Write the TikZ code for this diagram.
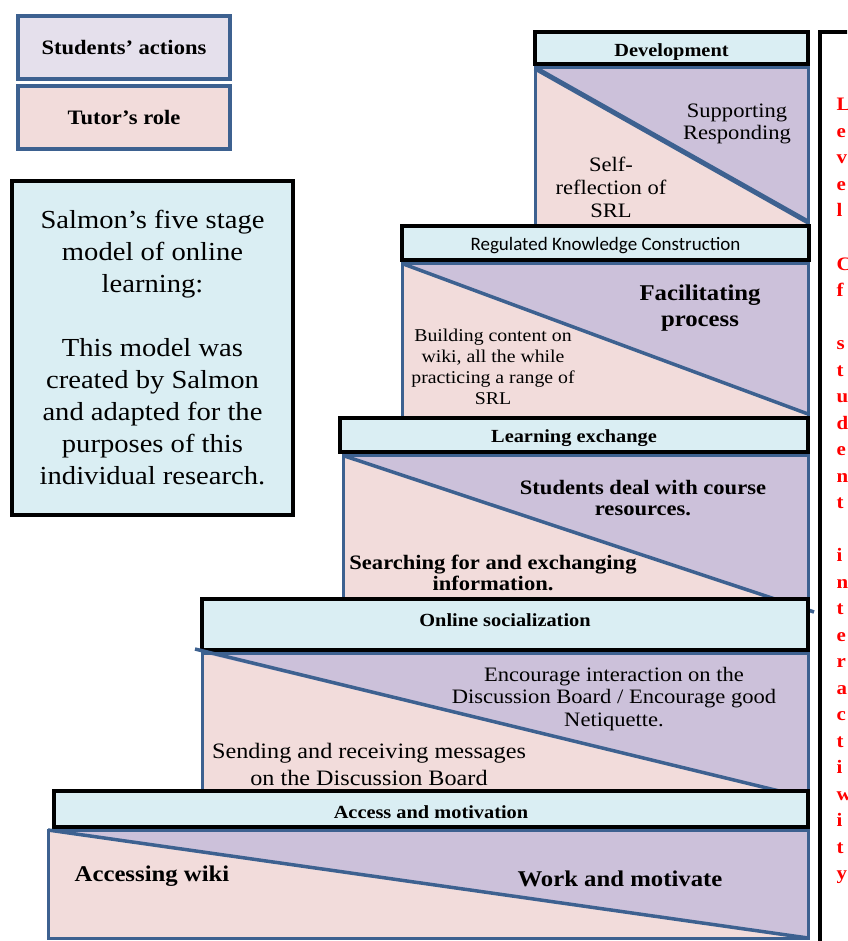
\documentclass[tikz,border=0pt]{standalone}
\usepackage{fontspec}
\setmainfont{Liberation Serif}[FakeStretch=1.1]
\newfontfamily\calibrifont{Carlito}
\usetikzlibrary{calc,positioning}

\definecolor{legendblue}{HTML}{3D6190}
\definecolor{headblue}{HTML}{DAEEF3}
\definecolor{tutorpink}{HTML}{F2DCDB}
\definecolor{studlilac}{HTML}{CCC1DA}
\definecolor{legendlilac}{HTML}{E5E0EC}

\tikzset{
  legendbox/.style={
    rectangle,
    draw=legendblue, line width=4pt,
    minimum width=212,
    minimum height=63,
    font=\bfseries\fontsize{20.5}{22}\selectfont},
  infobox/.style={
    rectangle,
    draw=black, line width=4pt,
    fill=headblue,
    align=center,
    font=\fontsize{26}{32}\selectfont},
  header/.style={
    rectangle,
    draw=black, line width=4pt,
    fill=headblue,
    inner sep=0pt,
    text depth=0pt,
    font=\bfseries\fontsize{18.5}{20}\selectfont},
  stagebody/.style={rectangle, fill=tutorpink, inner sep=0pt, outer sep=0pt},
  bodyline/.style={draw=legendblue, line width=3pt},
  diag/.style={draw=legendblue, line width=3.5pt},
  frame/.style={rectangle, draw=black, line width=4pt},
  bodytxt/.style={align=center, inner sep=0pt},
  redletter/.style={anchor=base west, inner sep=0pt, text=red,
    font=\bfseries\fontsize{19}{20}\selectfont},
}

\begin{document}
\begin{tikzpicture}[x=1pt, y=-1pt]
\clip (0,0) rectangle (847,941);

% legend and model note
\node[legendbox, fill=legendlilac] (students) at (124,47.5) {Students’ actions};
\node[legendbox, fill=tutorpink, below=3pt of students] (tutor) {Tutor’s role};
\node[infobox, minimum width=281, minimum height=334] (salmon) at (152.5,348)
  {Salmon’s five stage\\model of online\\learning:\\[32pt]This model was\\created by Salmon\\and adapted for the\\purposes of this\\individual research.};

\node[frame, anchor=north west, minimum width=100, minimum height=1000] (levelbox) at (818,30) {};
\foreach \i/\ch in {0/L,1/e,2/v,3/e,4/l,6/C,7/f,9/s,10/t,11/u,12/d,13/e,14/n,15/t,
    17/i,18/n,19/t,20/e,21/r,22/a,23/c,24/t,25/i,26/w,27/i,28/t,29/y}
  \node[redletter] (red\i) at (836.5,111+26.5*\i) {\ch};

% stage 5
\node[stagebody, minimum width=273, minimum height=158] (body5) at (671.5,147) {};
\coordinate (d5) at (808,222);
\fill[studlilac] (body5.north west) -- (body5.north east) -- (d5) -- cycle;
\draw[bodyline] (body5.north west) rectangle (body5.south east);
\node[header, minimum width=273, minimum height=32, text height=18pt] (head5) at (671.5,48) {Development};
\draw[diag, line width=5pt] (body5.north west) -- (d5);
\node[bodytxt, font=\fontsize{20.5}{21.5}\selectfont] (supp) at (737,124) {Supporting\\Responding};
\node[bodytxt, font=\fontsize{20.5}{23}\selectfont] (selfref) at (611,187) {Self-\\reflection of\\SRL};

% stage 4
\node[stagebody, minimum width=406, minimum height=155] (body4) at (605,341) {};
\coordinate (d4) at (808,414);
\fill[studlilac] (body4.north west) -- (body4.north east) -- (d4) -- cycle;
\draw[bodyline] (body4.north west) rectangle (body4.south east);
\node[header, minimum width=407, minimum height=34, text height=16pt,
  font=\calibrifont\fontsize{19}{20}\selectfont] (head4) at (605.5,243) {Regulated Knowledge Construction};
\draw[diag] (body4.north west) -- (d4);
\node[bodytxt, font=\bfseries\fontsize{22.5}{26}\selectfont] (facil) at (700,308) {Facilitating\\process};
\node[bodytxt, font=\fontsize{18}{21}\selectfont] (build) at (493,367) {Building content on\\wiki, all the while\\practicing a range of\\SRL};

% stage 3
\node[stagebody, minimum width=465, minimum height=144.5] (body3) at (575.5,527.75) {};
\coordinate (d3) at (814,612);
\fill[studlilac] (body3.north west) -- (body3.north east) -- (808,610) -- cycle;
\draw[bodyline] (body3.north west) rectangle (body3.south east);
\node[header, minimum width=468, minimum height=34, text height=14pt] (head3) at (574,435) {Learning exchange};
\draw[diag] (body3.north west) -- (d3);
\node[bodytxt, font=\bfseries\fontsize{20.5}{21.5}\selectfont] (deal) at (643,498) {Students deal with course\\resources.};
\node[bodytxt, font=\bfseries\fontsize{20.5}{21.5}\selectfont] (search) at (493,573) {Searching for and exchanging\\information.};

% stage 2
\node[stagebody, minimum width=606, minimum height=139] (body2) at (505,722.5) {};
\coordinate (s2) at (195,649);
\coordinate (d2) at (808,798);
\fill[studlilac] (body2.north west) -- (body2.north east) -- (d2) -- cycle;
\draw[bodyline] (body2.north west) rectangle (body2.south east);
\node[header, minimum width=606, minimum height=51, text height=3pt] (head2) at (505,624.5) {Online socialization};
\draw[diag] (s2) -- (d2);
\node[bodytxt, font=\fontsize{20.5}{22.5}\selectfont] (encour) at (614,699) {Encourage interaction on the\\Discussion Board / Encourage good\\Netiquette.};
\node[bodytxt, font=\fontsize{22}{27}\selectfont] (sending) at (369,764) {Sending and receiving messages\\on the Discussion Board};

% stage 1
\node[stagebody, minimum width=760, minimum height=108] (body1) at (428,884) {};
\fill[studlilac] (body1.north west) -- (body1.north east) -- (body1.south east) -- cycle;
\draw[bodyline] (body1.north west) rectangle (body1.south east);
\node[header, minimum width=754, minimum height=36, text height=18pt] (head1) at (431,809) {Access and motivation};
\draw[diag] (body1.north west) -- (body1.south east);
\node[bodytxt, font=\bfseries\fontsize{22.5}{24}\selectfont] (access) at (152,876) {Accessing wiki};
\node[bodytxt, font=\bfseries\fontsize{22.5}{24}\selectfont] (work) at (620,879) {Work and motivate};

\end{tikzpicture}
\end{document}
